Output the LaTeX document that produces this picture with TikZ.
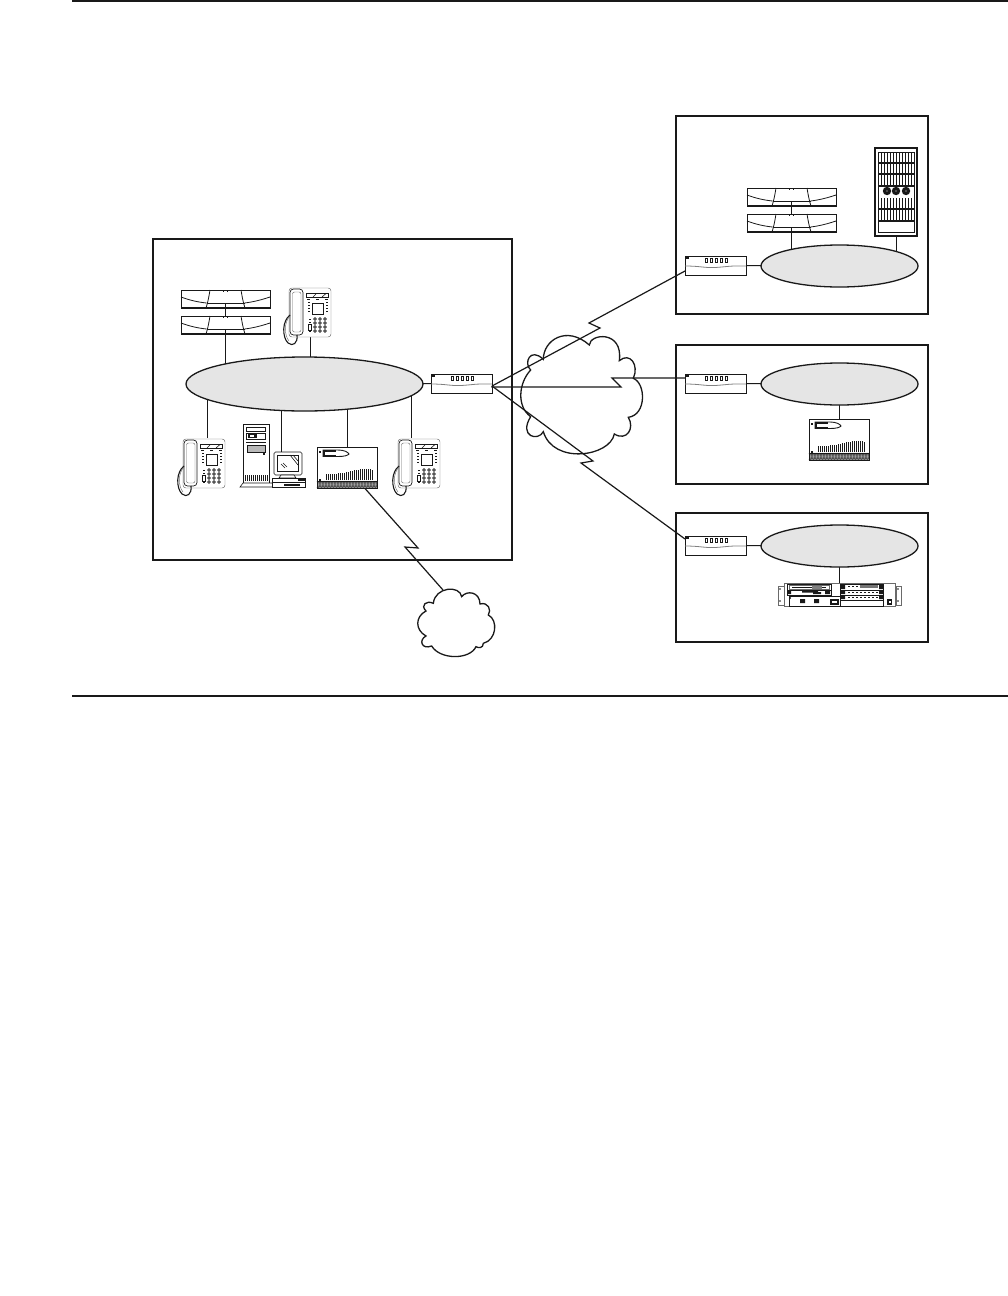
\documentclass[tikz,border=0pt]{standalone}
\usetikzlibrary{backgrounds,shapes.geometric}
\definecolor{ink}{gray}{0.1}
\definecolor{lan}{gray}{0.9}
\tikzset{
  x=1pt,y=-1pt,
  rule/.style={draw=ink,line width=1.6pt},
  framebox/.style={draw=ink,line width=1.6pt,inner sep=0pt,outer sep=0pt},
  link/.style={draw=ink,line width=1pt},
  wan/.style={draw=ink,line width=1.2pt,line join=miter},
  lanoval/.style={draw=ink,fill=lan,line width=1.3pt,ellipse,inner sep=0pt,outer sep=0pt},
  dev/.style={inner sep=0pt,outer sep=0pt,minimum width=#1},
  cloudline/.style={draw=ink,line width=1.3pt,fill=white},
  thinl/.style={draw=ink,line width=.6pt},
  hair/.style={draw=ink!65,line width=.45pt},
  routerpic/.pic={
    \draw[ink,line width=.9pt,fill=white] (0,0) rectangle (61,19);
    \fill[ink] (1,1) rectangle (4,3.2);
    \foreach \i in {0,...,4}{\draw[ink,line width=.7pt] (20+\i*5,2.2) rectangle (22.5+\i*5,6);}
    \draw[gray,line width=.8pt] (0,10) .. controls (15,10) and (20,12) .. (30,11.5) .. controls (40,11) and (45,9.5) .. (61,10);
  },
  cdupic/.pic={
    \draw[ink,line width=.9pt,fill=white] (0,0) rectangle (89,18);
    \draw[ink,line width=1.2pt] (0,17.6)--(89,17.6);
    \draw[ink,line width=.8pt] (0,7) .. controls (8,10) and (16,12) .. (25.5,13);
    \draw[ink,line width=.8pt] (89,7) .. controls (80,10) and (72,12) .. (63.5,13);
    \draw[ink,line width=.8pt] (29,0) .. controls (28,6) and (27,12) .. (25,18);
    \draw[ink,line width=.8pt] (60,0) .. controls (61,6) and (62,12) .. (64,18);
    \draw[thinl] (25.5,13.5)--(63.5,13.5);
    \draw[ink,line width=.8pt] (44.5,13.5)--(44.5,18);
    \foreach \i in {34,39,44,49,54}{\fill[ink] (\i,12.5) rectangle +(1,1);}
    \fill[ink] (42,.8) rectangle +(1.2,.8);
    \fill[ink] (45.5,.8) rectangle +(1.2,.8);
  },
  phonepic/.pic={
    \draw[hair,fill=white,rounded corners=3pt] (6,1) rectangle (48,50);
    \draw[ink,line width=.7pt,fill=white,rounded corners=3.5pt] (7,2) rectangle (20,48);
    \draw[hair,rounded corners=2pt] (9.5,5) rectangle (18,45);
    \draw[ink,line width=1.1pt] (7,28) .. controls (-1,34) and (-1,50) .. (5,56) .. controls (10,60) and (15,56) .. (14,48);
    \draw[hair] (7,29) .. controls (1,35) and (1,48) .. (6,54);
    \draw[thinl,fill=white] (23,6) rectangle (45,10.5);
    \draw[thinl] (30,10) -- (33,7) (39,10) -- (43,6.5);
    \foreach \i in {24,33,42}{\fill[ink] (\i,12) rectangle +(3,1.4);}
    \draw[thinl] (29,16) rectangle (40,27);
    \foreach \i in {24.5,42.5}{\foreach \j in {15,18,21,24}{\fill[ink] (\i,\j) rectangle +(2,1.4);}}
    \foreach \i in {32,37,42}{\foreach \j in {32,36,40,44}{\draw[ink,line width=.75pt] (\i,\j) circle (1.4);}}
    \foreach \j in {32,35,44}{\fill[ink] (25.5,\j) rectangle +(2.4,1.2);}
    \draw[thinl] (25,37) rectangle (28,43);
  },
  pbxpic/.pic={
    \draw[ink,line width=1pt,fill=white] (0,0) rectangle (60,41);
    \fill[gray!50] (0,34) rectangle (60,41);
    \foreach \i in {0,1.5,...,58.5}{\draw[ink!80,line width=.45pt] (\i,34) -- (\i+1.5,41) (\i+1.5,34) -- (\i,41);}
    \draw[ink,line width=1pt] (0,34)--(60,34) (0,41)--(60,41) (0,0) rectangle (60,41);
    \fill[ink] (2,3.5) rectangle +(2,2);
    \fill[ink] (2,32) rectangle +(2,2);
    \draw[ink,line width=.9pt] (6,3) -- (21,3) .. controls (27,3) and (31,5) .. (32,7) .. controls (31,8.5) and (27,9.5) .. (21,9.5) -- (6,9.5) -- cycle;
    \fill[ink] (6,3) rectangle (19,9.5);
    \fill[white] (8,5) rectangle (19,7.5);
    \foreach \i/\h in {9/6.5,11/6.5,13/6.5,15/6.5,17/6.5,19/6.5,21/7,23/7,25/7,27/7.5,29/8.5,31/8.5,33/9.5,35/9.5,37/10.5,39/10.5,41/10.5,43/11,45/11,47/11,49/11,51/11,53/11,55/10}{\draw[ink,line width=.85pt] (\i,33) -- +(0,-\h);}
  },
  pcpic/.pic={
    \draw[ink,line width=.9pt,fill=white] (3,0) rectangle (29,59);
    \draw[thinl,fill=white] (0,63) -- (3,59) -- (29,59) -- (32,59) -- (34,63) -- cycle;
    \draw[thinl] (6,3) rectangle (25,7);
    \draw[thinl] (6,9) rectangle (25,15);
    \fill[ink] (8,10) rectangle (17,14);
    \fill[white] (10,11) rectangle (14,13);
    \draw[thinl] (6,18) -- (26,18);
    \draw[thinl,fill=gray!55] (7,21) rectangle (25,28);
    \fill[ink] (23,29) rectangle +(2,2);
    \foreach \i in {5,7,...,27}{\draw[ink,line width=.85pt] (\i,51) -- (\i,57);}
    \draw[thinl,fill=white,rounded corners=1.5pt] (34,28) rectangle (62,51);
    \draw[thinl,fill=white] (37,31) rectangle (58,47);
    \draw[thinl] (50,31) -- (58,41) (53,31) -- (58,37) (41,40) -- (45,44) (43,39) -- (47,43);
    \draw[thinl,fill=white] (41,51) -- (39,54) -- (56,54) -- (54,51) -- cycle;
    \draw[ink,line width=.8pt,fill=white] (32,54) rectangle (65,63);
    \fill[ink] (32,57.5) rectangle (65,59);
    \fill[ink] (44,59.5) rectangle (60,61.5);
    \fill[ink] (58,55) rectangle (65,57);
  },
  rackpic/.pic={
    \draw[ink,line width=1.2pt,fill=white] (0,0) rectangle (42,88);
    \draw[thinl] (3,4) rectangle (39,84);
    \foreach \a/\b in {4/15,16/26,27/38,50/61,62/73}{
      \foreach \i in {6,9,...,36}{\draw[ink,line width=.7pt] (\i,\a) -- (\i,\b);}
      \draw[ink,line width=1.2pt] (3,\b) -- (39,\b);
    }
    \foreach \i in {12,21,31}{\fill[ink] (\i,43) circle (4.2);\fill[gray] (\i,43) circle (.9);}
    \draw[ink,line width=.8pt] (3,73.5) -- (39,73.5);
  },
  stackpic/.pic={
    \draw[hair,fill=white] (0,3) rectangle (6,22);
    \draw[hair,fill=white] (118,3) rectangle (123,22);
    \fill[ink] (2,6) circle (.9) (2,18) circle (.9) (120,6) circle (.9) (120,18) circle (.9);
    \draw[hair,fill=white] (6,0) rectangle (117,23);
    \draw[ink,line width=.8pt] (9,1) rectangle (53,7);
    \draw[hair] (11,2) rectangle (51,6);
    \draw[ink,line width=.5pt] (14,4) -- (48,4);
    \fill[gray] (34,2.5) rectangle (44,5.5);
    \draw[ink,line width=.8pt] (9,7) rectangle (53,12);
    \fill[ink] (10,8) rectangle (13,11) (24,8) rectangle (40,9.5) (35,9) rectangle (43,11) (47,8) rectangle (52,11);
    \draw[ink,line width=.8pt] (11,13) rectangle (62,23);
    \fill[ink] (12,15) circle (1);
    \fill[ink] (22,16) rectangle (27,20) (36,16) rectangle (41,20);
    \fill[ink] (52,16) rectangle (61,22);
    \fill[white] (54,18) rectangle (59,19.5);
    \foreach \a/\b in {1/7,7/12,12/17}{
      \draw[ink,line width=.7pt] (62,\a) rectangle (105,\b);
      \fill[ink] (63,\a+1) rectangle (67,\b-1) (101,\a+1) rectangle (105,\b-1);
      \foreach \i in {70,74,...,98}{\fill[ink] (\i,\a+2.2) rectangle +(2.2,1);}
    }
    \fill[ink!60] (82,2) rectangle (100,5);
    \draw[thinl] (62,17) rectangle (105,23);
    \fill[ink] (109,16) rectangle (114,22);
    \fill[white] (110.5,18) rectangle (112.5,19.5);
  },
}
\begin{document}
\begin{tikzpicture}
\useasboundingbox (0,0) rectangle (1008,1296);
% rules
\coordinate (ruleTopA) at (72,1);
\coordinate (ruleTopB) at (1008,1);
\coordinate (ruleBotA) at (72,696);
\coordinate (ruleBotB) at (1008,696);
\draw[rule] (ruleTopA) -- (ruleTopB);
\draw[rule] (ruleBotA) -- (ruleBotB);
% frames
\node[framebox,minimum width=359pt,minimum height=321pt] (mainbox) at (332.5,399.5) {};
\node[framebox,minimum width=252pt,minimum height=198pt] (boxA) at (802,215) {};
\node[framebox,minimum width=252pt,minimum height=139pt] (boxB) at (802,414.5) {};
\node[framebox,minimum width=252pt,minimum height=129pt] (boxC) at (802,577.5) {};
% clouds
\begin{scope}[shift={(490,300)},x=.3333pt,y=-.3333pt]
\draw[cloudline] (160,178)
 .. controls (160,120) and (230,75) .. (298,135)
 .. controls (300,100) and (400,90) .. (388,182)
 .. controls (420,155) and (448,195) .. (430,235)
 .. controls (468,250) and (470,345) .. (415,352)
 .. controls (435,385) and (410,425) .. (373,402)
 .. controls (360,470) and (190,495) .. (160,395)
 .. controls (145,425) and (85,410) .. (122,350)
 .. controls (80,320) and (85,250) .. (122,210)
 .. controls (100,190) and (120,140) .. (160,178) -- cycle;
\end{scope}
\begin{scope}[shift={(350,480)},x=.3333pt,y=-.3333pt]
\draw[cloudline] (250,370)
 .. controls (255,320) and (330,315) .. (335,350)
 .. controls (350,330) and (390,335) .. (390,372)
 .. controls (415,365) and (425,390) .. (415,405)
 .. controls (445,420) and (440,480) .. (400,490)
 .. controls (400,505) and (385,505) .. (378,500)
 .. controls (360,540) and (270,540) .. (245,498)
 .. controls (215,510) and (205,480) .. (228,468)
 .. controls (195,450) and (195,410) .. (228,393)
 .. controls (210,375) and (230,360) .. (250,370) -- cycle;
\end{scope}
% ovals
\node[lanoval,minimum width=237pt,minimum height=54pt] (lanMain) at (304.5,384) {};
\node[lanoval,minimum width=157pt,minimum height=42pt] (lanA) at (839.5,266) {};
\node[lanoval,minimum width=157pt,minimum height=42pt] (lanB) at (839.5,384) {};
\node[lanoval,minimum width=157pt,minimum height=42pt] (lanC) at (839.5,546) {};
% device footprints
\node[dev=61pt,minimum height=19pt] (rMain) at (461.5,383.5) {};
\node[dev=61pt,minimum height=19pt] (rA) at (715.5,265.5) {};
\node[dev=61pt,minimum height=19pt] (rB) at (715.5,383.5) {};
\node[dev=61pt,minimum height=19pt] (rC) at (715.5,545.5) {};
\node[dev=89pt,minimum height=18pt] (cdu1) at (225.5,299) {};
\node[dev=89pt,minimum height=18pt] (cdu2) at (225.5,325) {};
\node[dev=89pt,minimum height=18pt] (cdu3) at (791.5,197) {};
\node[dev=89pt,minimum height=18pt] (cdu4) at (791.5,223) {};
\node[dev=42pt,minimum height=50pt] (ph1) at (310.5,312) {};
\node[dev=42pt,minimum height=50pt] (ph2) at (207,463) {};
\node[dev=42pt,minimum height=50pt] (ph3) at (411.5,463) {};
\node[dev=28pt,minimum height=23pt] (mon) at (281,463.5) {};
\node[dev=60pt,minimum height=41pt] (pbx1) at (347,467.5) {};
\node[dev=60pt,minimum height=41pt] (pbx2) at (839,439.5) {};
\node[dev=42pt,minimum height=88pt] (rack) at (896,192) {};
\node[dev=111pt,minimum height=24pt] (stack) at (839.5,595) {};
\coordinate (cloudEast) at (443,590);
\coordinate (pbxExit) at (365,488.5);
% device drawings
\pic at (rMain.north west) {routerpic};
\pic at (rA.north west) {routerpic};
\pic at (rB.north west) {routerpic};
\pic at (rC.north west) {routerpic};
\pic at (cdu1.north west) {cdupic};
\pic at (cdu2.north west) {cdupic};
\pic at (cdu3.north west) {cdupic};
\pic at (cdu4.north west) {cdupic};
\pic at (283,287) {phonepic};
\pic at (177,438) {phonepic};
\pic at (392,438) {phonepic};
\pic at (240,424) {pcpic};
\pic at (pbx1.north west) {pbxpic};
\pic at (pbx2.north west) {pbxpic};
\pic at (rack.north west) {rackpic};
\pic at (778,583) {stackpic};
% connectors
\begin{scope}[on background layer]
\draw[link] (cdu1.south) -- (cdu2.north);
\draw[link] (cdu2.south) -- (cdu2.south |- lanMain.center);
\draw[link] (ph1.south) -- (ph1.south |- lanMain.center);
\draw[link] (ph2.north) -- (ph2.north |- lanMain.center);
\draw[link] (mon.north) -- (mon.north |- lanMain.center);
\draw[link] (pbx1.north) -- (pbx1.north |- lanMain.center);
\draw[link] (ph3.north) -- (ph3.north |- lanMain.center);
\draw[link] (lanMain.center) -- (rMain.west);
\draw[link] (cdu3.south) -- (cdu4.north);
\draw[link] (cdu4.south) -- (cdu4.south |- lanA.center);
\draw[link] (rack.south) -- (rack.south |- lanA.center);
\draw[link] (rA.east) -- (lanA.center);
\draw[link] (rB.east) -- (lanB.center);
\draw[link] (pbx2.north) -- (pbx2.north |- lanB.center);
\draw[link] (rC.east) -- (lanC.center);
\draw[link] (stack.north) -- (stack.north |- lanC.center);
\end{scope}
\coordinate (wanHub) at (492,386);
\draw[wan] (wanHub) -- (600,328) -- (589,323) -- (685,271);
\draw[wan] (wanHub) -- (492,387) -- (621,387) -- (612,378) -- (685,378);
\draw[wan] (wanHub) -- (593,461) -- (581,463) -- (685,539);
\draw[wan] (pbxExit) -- (418,548) -- (405,547) -- (cloudEast);
\end{tikzpicture}
\end{document}
